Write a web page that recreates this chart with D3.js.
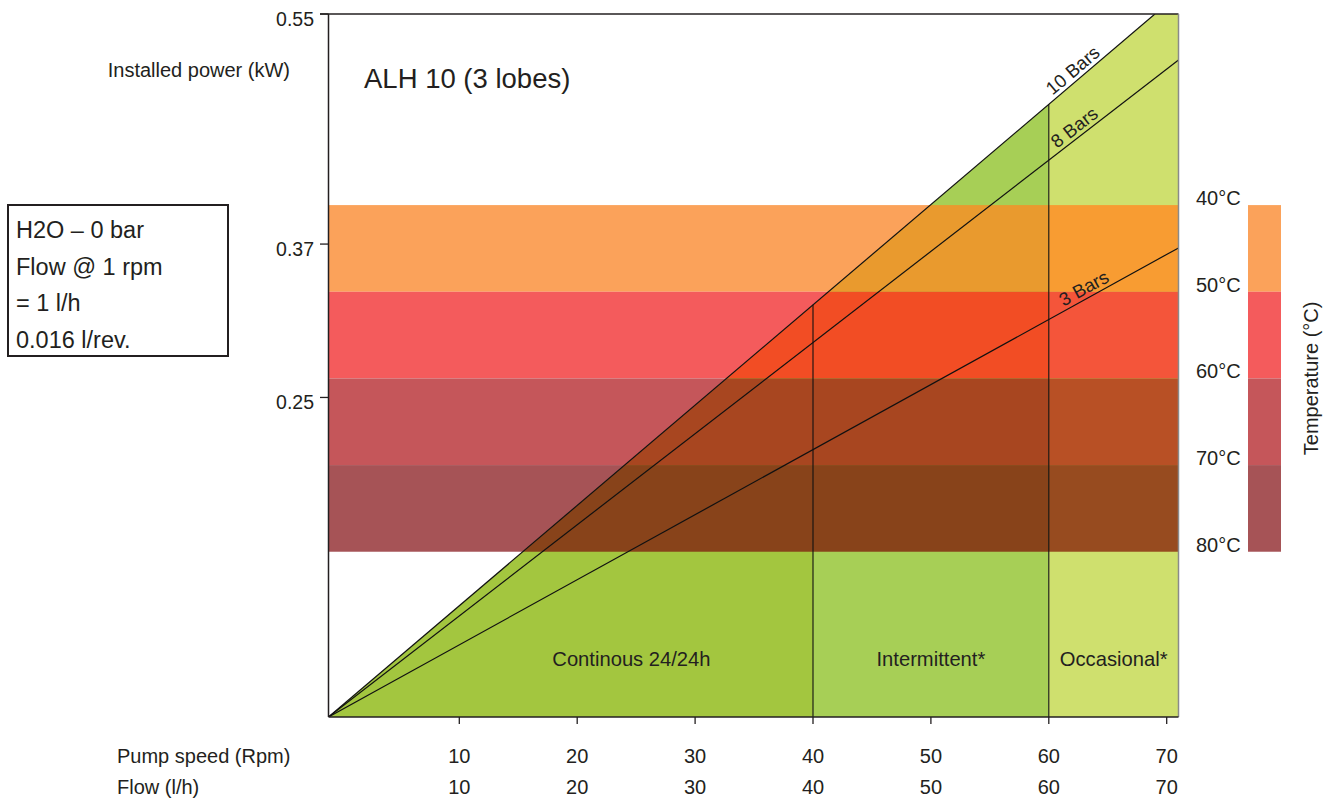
<!DOCTYPE html>
<html>
<head>
<meta charset="utf-8">
<script src="https://cdn.jsdelivr.net/npm/d3@7"></script>
<style>
  html, body { margin: 0; padding: 0; background: #fff; }
  svg text { font-family: "Liberation Sans", Arial, Helvetica, sans-serif; fill: #231F20; }
</style>
</head>
<body>
<svg id="chart" width="1329" height="801"></svg>
<script>
// ---------- data ----------
const xTicks = [10, 20, 30, 40, 50, 60, 70];          // pump speed (rpm) and flow (l/h)
const yTicks = [0.25, 0.37, 0.55];                    // installed power (kW)
const xMax = 71;
const yMax = 0.55;

// pressure lines: [rpm, kW] end points (lines start at the origin)
const lineNames = ["10 Bars", "8 Bars", "3 Bars"];
const lineEnds  = [[69, 0.55], [71, 0.514], [71, 0.367]];
const lineLabelAt = [62.6, 62.7, 63.4];               // rpm where label sits

// duty zones
const zoneNames  = ["Continous 24/24h", "Intermittent*", "Occasional*"];
const zoneFrom   = [0, 40, 60];
const zoneTo     = [40, 60, 71];
const zoneLabelAt = [24.6, 50, 65.5];
const zoneColors = ["#A3C63F", "#A7CF56", "#CFE06E"];

// temperature bands
const tempTicks = [40, 50, 60, 70, 80];
const tempPowerTop = 0.4005;     // kW level of 40°C edge
const tempPowerBottom = 0.1293;  // kW level of 80°C edge
const bandPlain     = ["#FBA25A", "#F45B5C", "#C5565A", "#A65356"];
const bandOverGreen = ["#E99A2E", "#F24D24", "#A84620", "#88431A"];
const bandOverOcc   = ["#F89C32", "#F4553A", "#B85025", "#974B1F"];

const infoLines = ["H2O – 0 bar", "Flow @ 1 rpm", "= 1 l/h", "0.016 l/rev."];

// ---------- layout ----------
const svg = d3.select("#chart");
const L = 328.5, R = 1178.5, T = 14, B = 717;
const x = d3.scaleLinear().domain([0, 10, 70]).range([L, 459.3, 1166.7]);
const y = d3.scaleLinear().domain([0, yMax]).range([B, T]);
const tY = d3.scaleLinear().domain([40, 80]).range([y(tempPowerTop), y(tempPowerBottom)]);

// straight pressure line (in drawing space) from origin to end point: kW at a given rpm
function kwAt(end, rpm) {
  const t = (x(rpm) - x(0)) / (x(end[0]) - x(0));
  return y.invert(y(0) + t * (y(end[1]) - y(0)));
}

const defs = svg.append("defs");
defs.append("clipPath").attr("id", "plotClip")
  .append("rect").attr("x", L).attr("y", T).attr("width", x(xMax) - L).attr("height", B - T);

const limit = lineEnds[0];
const zoneArea = d3.area().x(d => x(d)).y0(y(0)).y1(d => y(kwAt(limit, d)));

// clips for overlaps
defs.append("clipPath").attr("id", "greenMain")
  .append("path").attr("d", zoneArea([zoneFrom[0], zoneTo[1]]));
defs.append("clipPath").attr("id", "greenOcc")
  .append("path").attr("d", zoneArea([zoneFrom[2], zoneTo[2]]));

const plot = svg.append("g").attr("clip-path", "url(#plotClip)");
const bands = d3.range(tempTicks.length - 1);

function drawBands(g, colors) {
  g.selectAll("rect").data(bands).join("rect")
    .attr("x", L).attr("width", x(xMax) - L)
    .attr("y", i => tY(tempTicks[i])).attr("height", i => tY(tempTicks[i + 1]) - tY(tempTicks[i]))
    .attr("fill", i => colors[i]);
}

// plain temperature bands
drawBands(plot.append("g"), bandPlain);

// green zones
plot.append("g").selectAll("path").data(zoneNames).join("path")
  .attr("d", (d, i) => zoneArea([zoneFrom[i], zoneTo[i]]))
  .attr("fill", (d, i) => zoneColors[i]);

// overlaps
drawBands(plot.append("g").attr("clip-path", "url(#greenMain)"), bandOverGreen);
drawBands(plot.append("g").attr("clip-path", "url(#greenOcc)"), bandOverOcc);

// zone boundaries
[zoneTo[0], zoneTo[1]].forEach(v => {
  plot.append("line").attr("x1", x(v)).attr("x2", x(v)).attr("y1", y(0)).attr("y2", y(kwAt(limit, v)))
    .attr("stroke", "#111").attr("stroke-width", 1.1);
});

// pressure lines
const lineGen = d3.line().x(d => x(d[0])).y(d => y(d[1]));
plot.append("g").selectAll("path").data(lineEnds).join("path")
  .attr("d", d => lineGen([[0, 0], d]))
  .attr("fill", "none").attr("stroke", "#111").attr("stroke-width", 1.2);

// line labels
lineNames.forEach((name, i) => {
  const e = lineEnds[i];
  const px = x(lineLabelAt[i]), py = y(kwAt(e, lineLabelAt[i]));
  const ang = Math.atan2(y(e[1]) - y(0), x(e[0]) - x(0)) * 180 / Math.PI;
  svg.append("text").attr("transform", `translate(${px},${py}) rotate(${ang})`)
    .attr("dy", -4).attr("text-anchor", "middle").attr("font-size", 18.5).text(name);
});

// zone labels
svg.append("g").selectAll("text").data(zoneNames).join("text")
  .attr("x", (d, i) => x(zoneLabelAt[i])).attr("y", 666)
  .attr("text-anchor", "middle").attr("font-size", 20.2).text(d => d);

// frame
svg.append("line").attr("x1", 320).attr("x2", R).attr("y1", T).attr("y2", T).attr("stroke", "#231F20").attr("stroke-width", 1.3);
svg.append("line").attr("x1", R).attr("x2", R).attr("y1", T).attr("y2", B).attr("stroke", "#8a8a8a").attr("stroke-width", 1.5);
svg.append("line").attr("x1", L).attr("x2", L).attr("y1", T).attr("y2", B).attr("stroke", "#231F20").attr("stroke-width", 1.5);
svg.append("line").attr("x1", L).attr("x2", R).attr("y1", B).attr("y2", B).attr("stroke", "#231F20").attr("stroke-width", 1.5);

// y ticks
svg.append("g").selectAll("line").data(yTicks).join("line")
  .attr("x1", 320).attr("x2", L).attr("y1", d => y(d)).attr("y2", d => y(d))
  .attr("stroke", "#231F20").attr("stroke-width", 1.3);
svg.append("g").selectAll("text").data(yTicks).join("text")
  .attr("x", 314).attr("y", d => y(d) + 12).attr("text-anchor", "end").attr("font-size", 19.5)
  .text(d => d.toFixed(2));

// x ticks
svg.append("g").selectAll("line").data(xTicks).join("line")
  .attr("x1", d => x(d)).attr("x2", d => x(d)).attr("y1", B).attr("y2", B + 7)
  .attr("stroke", "#231F20").attr("stroke-width", 1.3);
svg.append("g").selectAll("text").data(xTicks).join("text")
  .attr("x", d => x(d)).attr("y", 763).attr("text-anchor", "middle").attr("font-size", 20).text(d => d);
svg.append("g").selectAll("text").data(xTicks).join("text")
  .attr("x", d => x(d)).attr("y", 794).attr("text-anchor", "middle").attr("font-size", 20).text(d => d);

// axis titles
svg.append("text").attr("x", 290).attr("y", 77).attr("text-anchor", "end").attr("font-size", 20).text("Installed power (kW)");
svg.append("text").attr("x", 117).attr("y", 763).attr("font-size", 20).text("Pump speed (Rpm)");
svg.append("text").attr("x", 117).attr("y", 794).attr("font-size", 20).text("Flow (l/h)");
svg.append("text").attr("x", 364).attr("y", 88).attr("font-size", 27.5).text("ALH 10 (3 lobes)");

// temperature legend
svg.append("g").selectAll("rect").data(bands).join("rect")
  .attr("x", 1248).attr("width", 33)
  .attr("y", i => tY(tempTicks[i])).attr("height", i => tY(tempTicks[i + 1]) - tY(tempTicks[i]))
  .attr("fill", i => bandPlain[i]);
svg.append("g").selectAll("text").data(tempTicks).join("text")
  .attr("x", 1196).attr("y", d => tY(d)).attr("font-size", 20).text(d => d + "°C");
svg.append("text").attr("transform", `translate(1318,${(tY(40) + tY(80)) / 2}) rotate(-90)`)
  .attr("text-anchor", "middle").attr("font-size", 20).text("Temperature (°C)");

// info box
svg.append("rect").attr("x", 8).attr("y", 205).attr("width", 220).attr("height", 151)
  .attr("fill", "none").attr("stroke", "#231F20").attr("stroke-width", 2);
svg.append("g").selectAll("text").data(infoLines).join("text")
  .attr("x", 16).attr("y", (d, i) => 238 + i * 36.7).attr("font-size", 23.5).text(d => d);
</script>
</body>
</html>
